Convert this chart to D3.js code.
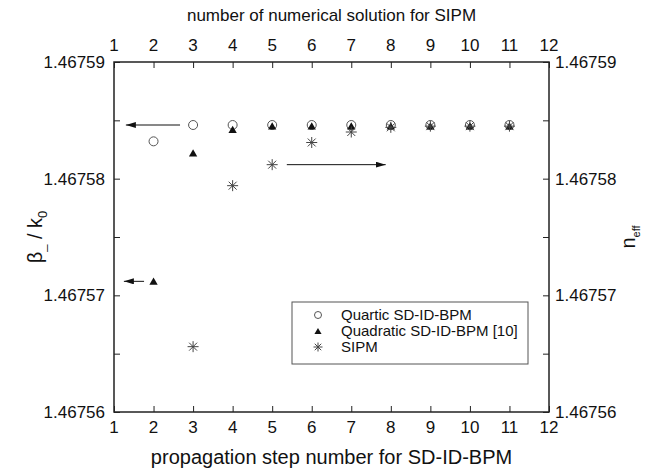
<!DOCTYPE html>
<html>
<head>
<meta charset="utf-8">
<script src="https://cdn.jsdelivr.net/npm/d3@7"></script>
<style>
  body { margin: 0; background: #fff; }
  svg text { font-family: "Liberation Sans", Arial, sans-serif; fill: #111; }
</style>
</head>
<body>
<svg id="chart"></svg>
<script>
// data
const steps = [1, 2, 3, 4, 5, 6, 7, 8, 9, 10, 11, 12];
const yTicks = [1.46756, 1.46757, 1.46758, 1.46759];

const quarticX = [2, 3, 4, 5, 6, 7, 8, 9, 10, 11];
const quarticY = [1.4675832, 1.4675846, 1.4675846, 1.4675846, 1.4675846, 1.4675846, 1.4675846, 1.4675846, 1.4675846, 1.4675846];

const quadraticX = [2, 3, 4, 5, 6, 7, 8, 9, 10, 11];
const quadraticY = [1.4675712, 1.4675822, 1.4675842, 1.4675845, 1.4675845, 1.4675845, 1.4675845, 1.4675845, 1.4675845, 1.4675845];

const sipmX = [3, 4, 5, 6, 7, 8, 9, 10, 11];
const sipmY = [1.4675656, 1.4675794, 1.4675812, 1.4675831, 1.467584, 1.4675844, 1.4675845, 1.4675845, 1.4675845];

// annotation arrows [x from, x to, y]
const arrows = [
  [2.67, 1.3, 1.4675846],
  [1.76, 1.25, 1.4675712],
  [5.37, 7.87, 1.4675812]
];

const legendLabels = ["Quartic SD-ID-BPM", "Quadratic SD-ID-BPM [10]", "SIPM"];

const width = 651, height = 468;
const margin = { top: 62, right: 102, bottom: 56, left: 114 };

const svg = d3.select("#chart").attr("width", width).attr("height", height);

const x = d3.scaleLinear().domain([1, 12]).range([margin.left, width - margin.right]);
const y = d3.scaleLinear().domain([1.46756, 1.46759]).range([height - margin.bottom, margin.top]);

const fmt = d3.format(".5f");
const minorY = d3.range(0, 7).map((i) => 1.46756 + i * 0.000005);

// frame
svg.append("rect")
  .attr("x", x(1)).attr("y", y(1.46759))
  .attr("width", x(12) - x(1)).attr("height", y(1.46756) - y(1.46759))
  .attr("fill", "none").attr("stroke", "#222").attr("stroke-width", 1.5);

const tickLen = 6;
const tickFont = 17;

// bottom axis
svg.append("g")
  .attr("transform", `translate(0,${y(1.46756)})`)
  .call(d3.axisTop(x).tickValues(steps).tickSize(tickLen).tickFormat(""))
  .call((g) => g.select(".domain").remove())
  .call((g) => g.selectAll(".tick line").attr("stroke", "#222"));
svg.append("g").selectAll("text").data(steps).join("text")
  .attr("x", (d) => x(d)).attr("y", y(1.46756) + 21)
  .attr("text-anchor", "middle").attr("font-size", tickFont).text((d) => d);

// top axis
svg.append("g")
  .attr("transform", `translate(0,${y(1.46759)})`)
  .call(d3.axisBottom(x).tickValues(steps).tickSize(tickLen).tickFormat(""))
  .call((g) => g.select(".domain").remove())
  .call((g) => g.selectAll(".tick line").attr("stroke", "#222"));
svg.append("g").selectAll("text").data(steps).join("text")
  .attr("x", (d) => x(d)).attr("y", y(1.46759) - 11)
  .attr("text-anchor", "middle").attr("font-size", tickFont).text((d) => d);

// left axis
svg.append("g")
  .attr("transform", `translate(${x(1)},0)`)
  .call(d3.axisRight(y).tickValues(minorY).tickSize(tickLen).tickFormat(""))
  .call((g) => g.select(".domain").remove())
  .call((g) => g.selectAll(".tick line").attr("stroke", "#222"));
svg.append("g").selectAll("text").data(yTicks).join("text")
  .attr("x", x(1) - 9).attr("y", (d) => y(d) + 6)
  .attr("text-anchor", "end").attr("font-size", tickFont).text((d) => fmt(d));

// right axis
svg.append("g")
  .attr("transform", `translate(${x(12)},0)`)
  .call(d3.axisLeft(y).tickValues(minorY).tickSize(tickLen).tickFormat(""))
  .call((g) => g.select(".domain").remove())
  .call((g) => g.selectAll(".tick line").attr("stroke", "#222"));
svg.append("g").selectAll("text").data(yTicks).join("text")
  .attr("x", x(12) + 6).attr("y", (d) => y(d) + 6)
  .attr("text-anchor", "start").attr("font-size", tickFont).text((d) => fmt(d));

// axis titles
svg.append("text").attr("x", (x(1) + x(12)) / 2).attr("y", 21)
  .attr("text-anchor", "middle").attr("font-size", 17).text("number of numerical solution for SIPM");
svg.append("text").attr("x", (x(1) + x(12)) / 2).attr("y", 464)
  .attr("text-anchor", "middle").attr("font-size", 20).text("propagation step number for SD-ID-BPM");

const lt = svg.append("text").attr("font-size", 20)
  .attr("transform", `translate(42,${(y(1.46756) + y(1.46759)) / 2}) rotate(-90)`)
  .attr("text-anchor", "middle");
lt.append("tspan").text("β");
lt.append("tspan").attr("font-size", 13).attr("dy", 3).text("_");
lt.append("tspan").attr("dy", -3).text(" / k");
lt.append("tspan").attr("font-size", 13).attr("dy", 5).text("0");

const rt = svg.append("text").attr("font-size", 20)
  .attr("transform", `translate(635,${(y(1.46756) + y(1.46759)) / 2}) rotate(-90)`)
  .attr("text-anchor", "middle");
rt.append("tspan").text("n");
rt.append("tspan").attr("font-size", 11).attr("dy", 5).text("eff");

// markers
const asterisk = (sel, s) => {
  sel.append("path")
    .attr("d", `M${-s},0H${s}M0,${-s}V${s}M${-s * 0.72},${-s * 0.72}L${s * 0.72},${s * 0.72}M${-s * 0.72},${s * 0.72}L${s * 0.72},${-s * 0.72}`)
    .attr("stroke", "#444").attr("stroke-width", 1).attr("fill", "none");
};
const triPath = d3.symbol().type(d3.symbolTriangle).size(30)();

svg.append("g").selectAll("circle").data(quarticX.map((d, i) => [d, quarticY[i]])).join("circle")
  .attr("cx", (d) => x(d[0])).attr("cy", (d) => y(d[1])).attr("r", 4.5)
  .attr("fill", "none").attr("stroke", "#555").attr("stroke-width", 1);

svg.append("g").selectAll("path").data(quadraticX.map((d, i) => [d, quadraticY[i]])).join("path")
  .attr("d", triPath).attr("fill", "#111")
  .attr("transform", (d) => `translate(${x(d[0])},${y(d[1]) + 1})`);

svg.append("g").selectAll("g").data(sipmX.map((d, i) => [d, sipmY[i]])).join("g")
  .attr("transform", (d) => `translate(${x(d[0])},${y(d[1])})`)
  .each(function () { asterisk(d3.select(this), 5.5); });

// arrows
svg.append("defs").append("marker")
  .attr("id", "head").attr("viewBox", "0 0 10 6").attr("refX", 10).attr("refY", 3)
  .attr("markerWidth", 10).attr("markerHeight", 6).attr("markerUnits", "userSpaceOnUse")
  .attr("orient", "auto")
  .append("path").attr("d", "M0,0L10,3L0,6Z").attr("fill", "#111");

svg.append("g").selectAll("line").data(arrows).join("line")
  .attr("x1", (d) => x(d[0])).attr("x2", (d) => x(d[1]))
  .attr("y1", (d) => y(d[2])).attr("y2", (d) => y(d[2]))
  .attr("stroke", "#111").attr("stroke-width", 1).attr("marker-end", "url(#head)");

// legend
const lg = svg.append("g").attr("transform", "translate(292,302)");
lg.append("rect").attr("width", 236).attr("height", 62)
  .attr("fill", "#fff").attr("stroke", "#555").attr("stroke-width", 1);
const rowY = [13, 29, 45];
lg.append("circle").attr("cx", 26).attr("cy", rowY[0]).attr("r", 3.5)
  .attr("fill", "none").attr("stroke", "#555");
lg.append("path").attr("d", d3.symbol().type(d3.symbolTriangle).size(22)())
  .attr("fill", "#111").attr("transform", `translate(26,${rowY[1] + 1})`);
asterisk(lg.append("g").attr("transform", `translate(26,${rowY[2]})`), 4.5);
lg.selectAll("text.lab").data(legendLabels).join("text").attr("class", "lab")
  .attr("x", 49).attr("y", (d, i) => rowY[i] + 5).attr("font-size", 15).text((d) => d);
</script>
</body>
</html>
